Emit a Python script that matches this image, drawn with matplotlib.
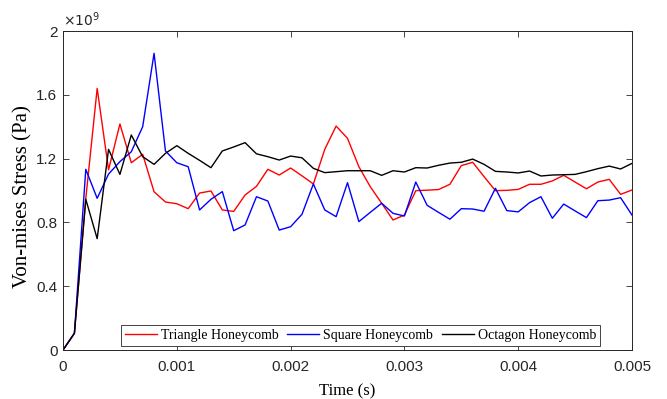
import numpy as np
import matplotlib
matplotlib.use("Agg")
import matplotlib.pyplot as plt
from matplotlib.ticker import FuncFormatter

# time steps (s)
time = [i * 0.0001 for i in range(51)]

# von-mises stress, in units of 1e9 Pa
triangle = [0, 0.105, 0.95, 1.64, 1.13, 1.417, 1.174, 1.227, 0.992, 0.928,
            0.917, 0.886, 0.984, 0.997, 0.878, 0.869, 0.972, 1.026, 1.133, 1.097,
            1.141, 1.092, 1.041, 1.258, 1.404, 1.327, 1.149, 1.024, 0.92, 0.815,
            0.846, 0.999, 1.002, 1.006, 1.039, 1.156, 1.177, 1.087, 0.999, 1.001,
            1.007, 1.039, 1.039, 1.06, 1.095, 1.053, 1.011, 1.053, 1.07, 0.976,
            1.003]
square = [0, 0.105, 1.133, 0.951, 1.103, 1.181, 1.243, 1.40, 1.86, 1.248,
          1.174, 1.149, 0.878, 0.945, 0.993, 0.748, 0.784, 0.961, 0.934, 0.752,
          0.773, 0.851, 1.041, 0.878, 0.836, 1.049, 0.805, 0.863, 0.92, 0.857,
          0.84, 1.053, 0.907, 0.863, 0.82, 0.886, 0.884, 0.87, 1.014, 0.874,
          0.866, 0.924, 0.961, 0.826, 0.915, 0.872, 0.83, 0.936, 0.94, 0.955,
          0.846]
octagon = [0, 0.105, 0.945, 0.698, 1.258, 1.101, 1.348, 1.212, 1.164, 1.233,
           1.281, 1.233, 1.189, 1.143, 1.248, 1.273, 1.30, 1.23, 1.212, 1.191,
           1.216, 1.205, 1.139, 1.112, 1.118, 1.124, 1.124, 1.124, 1.095, 1.124,
           1.116, 1.143, 1.141, 1.158, 1.172, 1.177, 1.197, 1.164, 1.12, 1.116,
           1.11, 1.122, 1.091, 1.097, 1.099, 1.101, 1.118, 1.137, 1.153, 1.135,
           1.17]

fig = plt.figure(figsize=(6.67, 3.99), dpi=100)
ax = fig.add_axes([0.0945, 0.1228, 0.853, 0.7995])

ax.plot(time, np.array(triangle) * 1e9, color='red', lw=1.0, label='Triangle Honeycomb')
ax.plot(time, np.array(square) * 1e9, color='blue', lw=1.0, label='Square Honeycomb')
ax.plot(time, np.array(octagon) * 1e9, color='black', lw=1.0, label='Octagon Honeycomb')

ax.set_xlim(0, 0.005)
ax.set_ylim(0, 2e9)
ax.set_xticks([0, 0.001, 0.002, 0.003, 0.004, 0.005])
ax.set_yticks([0, 0.4e9, 0.8e9, 1.2e9, 1.6e9, 2e9])
ax.xaxis.set_major_formatter(FuncFormatter(lambda v, p: '%g' % round(v, 6)))
ax.yaxis.set_major_formatter(FuncFormatter(lambda v, p: '%g' % round(v / 1e9, 3)))
ax.tick_params(direction='in', top=True, right=True, length=4, width=0.6,
               labelsize=11, colors='#262626')
ax.tick_params(axis='x', pad=7)
ax.tick_params(axis='y', pad=4)
for lab in ax.get_xticklabels() + ax.get_yticklabels():
    lab.set_family('Liberation Sans')
for s in ax.spines.values():
    s.set_color('#262626')
    s.set_linewidth(0.7)

ax.text(0.0, 1.005, r'$\times10^{9}$', transform=ax.transAxes, ha='left', va='bottom',
        fontsize=10, color='#262626')

ax.set_xlabel('Time (s)', family='Liberation Serif', fontsize=12, labelpad=7)
ax.set_ylabel('Von-mises Stress (Pa)', family='Liberation Serif', fontsize=15)
ax.yaxis.set_label_coords(-0.053, 0.481)

leg = ax.legend(loc='lower center', bbox_to_anchor=(0.523, 0.012), ncol=3,
                prop={'family': 'Liberation Serif', 'size': 10}, fancybox=False,
                edgecolor='#262626', framealpha=1, handlelength=2.3,
                handletextpad=0.3, columnspacing=0.6, borderpad=0.3,
                borderaxespad=0)
leg.get_frame().set_linewidth(0.6)

fig.savefig('out.png', dpi=100)
